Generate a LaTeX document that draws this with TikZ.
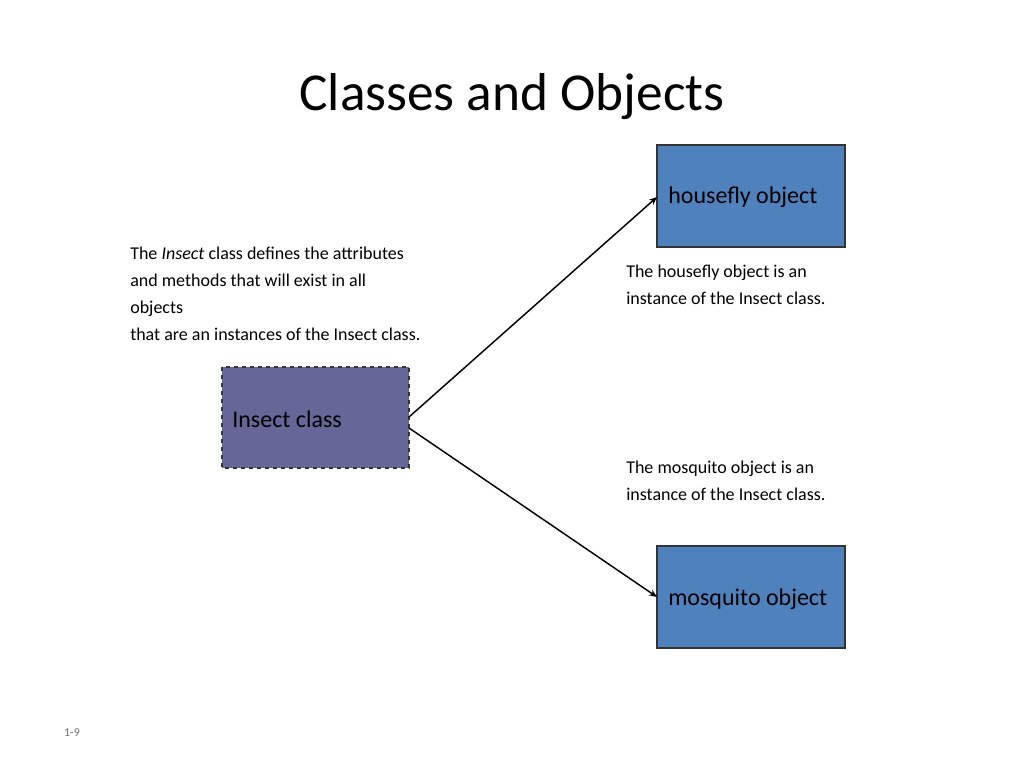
\documentclass[tikz,border=0pt]{standalone}
\usepackage{fontspec}
\setmainfont{Carlito}
\usetikzlibrary{arrows.meta}
\begin{document}
\begin{tikzpicture}[x=0.75pt,y=-0.75pt,
 obj/.style={draw=black!80,fill={rgb,255:red,79;green,129;blue,189},line width=0.8pt},
 lbl/.style={anchor=west,inner sep=0pt,font=\fontsize{18}{22}\selectfont},
 txt/.style={anchor=north west,inner sep=0pt,align=left,font=\fontsize{13.5}{20.2}\selectfont},
 arr/.style={line width=1.1pt,-{Stealth[length=6pt,width=5pt]}}]
\useasboundingbox (0,0) rectangle (1024,768);
\node[font=\fontsize{40}{48}\selectfont] (title) at (512,97) {Classes and Objects};
\draw[obj] (657,145) rectangle (845,247);
\node[lbl] (hf) at (668,197) {housefly object};
\draw[obj,fill={rgb,255:red,102;green,102;blue,153},dashed] (222,367) rectangle (409,468);
\node[lbl] (ic) at (232,419) {Insect class};
\draw[obj] (657,546) rectangle (845,648);
\node[lbl] (mq) at (668,599) {mosquito object};
\coordinate (s1) at (409,417);
\coordinate (s2) at (409,428);
\coordinate (e1) at (657,197);
\coordinate (e2) at (657,597);
\draw[arr] (s1) -- (e1);
\draw[arr] (s2) -- (e2);
\node[txt] (t1) at (130,247) {The \textit{Insect} class defines the attributes\\and methods that will exist in all\\objects\\that are an instances of the Insect class.};
\node[txt] (t2) at (626,265) {The housefly object is an\\instance of the Insect class.};
\node[txt] (t3) at (626,461) {The mosquito object is an\\instance of the Insect class.};
\node[font=\fontsize{9}{11}\selectfont,text=black!55] (pg) at (72,733) {1-9};
\end{tikzpicture}
\end{document}
